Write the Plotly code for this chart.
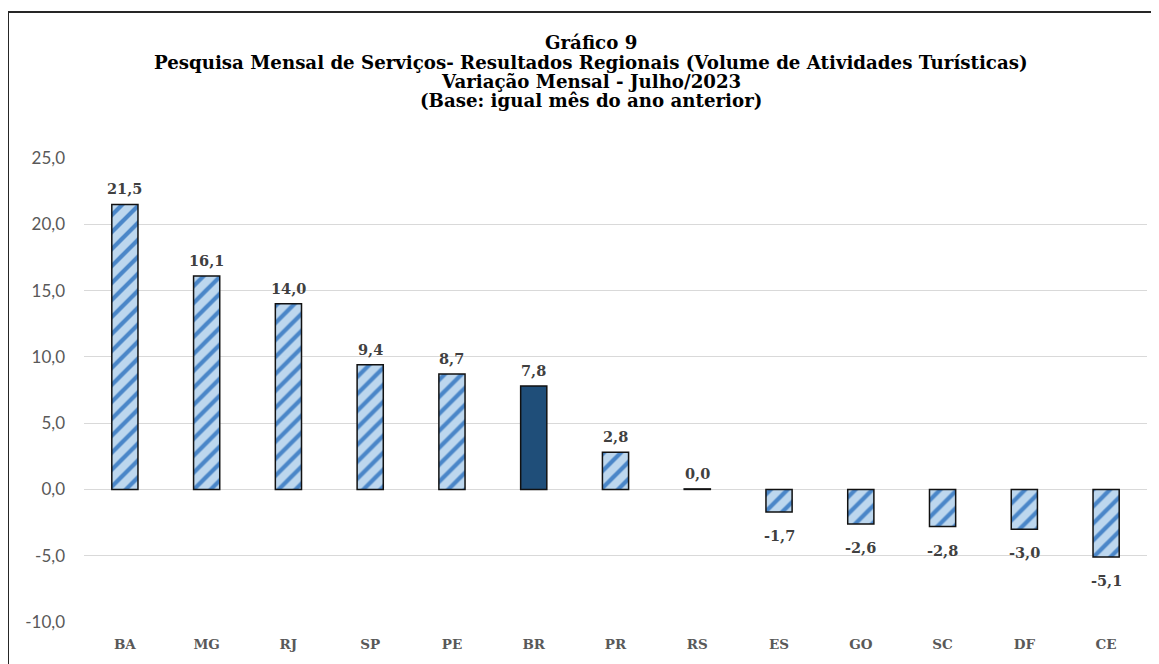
import plotly.graph_objects as go

categories = ["BA", "MG", "RJ", "SP", "PE", "BR", "PR", "RS", "ES", "GO", "SC", "DF", "CE"]
values = [21.5, 16.1, 14.0, 9.4, 8.7, 7.8, 2.8, 0.04, -1.7, -2.6, -2.8, -3.0, -5.1]
labels = ["21,5", "16,1", "14,0", "9,4", "8,7", "7,8", "2,8", "0,0", "-1,7", "-2,6", "-2,8", "-3,0", "-5,1"]
highlight = "BR"
y_ticks = [-10, -5, 0, 5, 10, 15, 20, 25]
y_tick_text = ["-10,0", "-5,0", "0,0", "5,0", "10,0", "15,0", "20,0", "25,0"]
title_lines = [
    "Gráfico 9",
    "Pesquisa Mensal de Serviços- Resultados Regionais (Volume de Atividades Turísticas)",
    "Variação Mensal - Julho/2023",
    "(Base: igual mês do ano anterior)",
]

# page body adds an 8px offset; work in page pixels and subtract it
OFF = 8
W, H = 1159 - OFF, 664 - OFF
PL, PR, PT, PB = 84, 1147, 158, 625   # plot area in page pixels
L, R, T, B = PL - OFF, W - (PR - OFF), PT - OFF, H - (PB - OFF)
pw, ph = W - L - R, H - T - B

def px_x(p):
    return (p - OFF - L) / pw

def px_y(p):
    return (H - B - (p - OFF)) / ph

light = "#bdd7ee"
stripe = "#4a86c8"
dark = "#1f4e79"
serif = "DejaVu Serif"

y_pat = [None if c == highlight else v for c, v in zip(categories, values)]
y_hi = [v if c == highlight else None for c, v in zip(categories, values)]

fig = go.Figure()
fig.add_trace(go.Bar(
    x=categories, y=y_pat, width=0.32,
    marker=dict(
        color=light,
        line=dict(color="#111111", width=1.5),
        pattern=dict(shape="/", fgcolor=stripe, bgcolor=light, fgopacity=1,
                     fillmode="replace", size=12, solidity=0.35),
    ),
    hoverinfo="skip",
))
fig.add_trace(go.Bar(
    x=categories, y=y_hi, width=0.32,
    marker=dict(color=dark, line=dict(color="#111111", width=1.5)),
    hoverinfo="skip",
))

annotations = []
for c, v, t in zip(categories, values, labels):
    f = dict(family=serif, size=14.5, color="#404040")
    if v >= 0:
        annotations.append(dict(x=c, y=v, text="<b>%s</b>" % t, showarrow=False,
                                yanchor="bottom", yshift=5, font=f))
    else:
        annotations.append(dict(x=c, y=v, text="<b>%s</b>" % t, showarrow=False,
                                yanchor="top", yshift=-13, font=f))

title_y = [42, 61.5, 81, 100]
for s, ty in zip(title_lines, title_y):
    annotations.append(dict(
        x=px_x(591), y=px_y(ty), xref="paper", yref="paper", xanchor="center", yanchor="middle",
        text="<b>%s</b>" % s, showarrow=False,
        font=dict(family=serif, size=18.2, color="#000000"),
    ))

shapes = [
    dict(type="line", xref="paper", yref="paper", x0=px_x(8), x1=px_x(1170), y0=px_y(11), y1=px_y(11),
         line=dict(color="#262626", width=2)),
    dict(type="line", xref="paper", yref="paper", x0=px_x(8), x1=px_x(8), y0=px_y(11), y1=px_y(680),
         line=dict(color="#262626", width=2)),
]

fig.update_layout(
    width=W, height=H,
    margin=dict(l=L, r=R, t=T, b=B, pad=0),
    paper_bgcolor="white", plot_bgcolor="white",
    showlegend=False,
    barmode="overlay",
    annotations=annotations,
    shapes=shapes,
    xaxis=dict(
        type="category", categoryorder="array", categoryarray=categories,
        showgrid=False, showline=False, zeroline=False, ticks="",
        tickfont=dict(family=serif, size=13.5, color="#595959"),
        tickprefix="<b>", ticksuffix="</b>",
        ticklabelstandoff=12,
    ),
    yaxis=dict(
        range=[-10, 25], tickvals=y_ticks, ticktext=y_tick_text,
        showgrid=True, gridcolor="#d9d9d9", gridwidth=1,
        zeroline=True, zerolinecolor="#d9d9d9", zerolinewidth=1,
        showline=False, ticks="",
        tickfont=dict(family="Lato", size=17, color="#595959"),
        ticklabelstandoff=18,
    ),
)

fig.write_html("out.html")
